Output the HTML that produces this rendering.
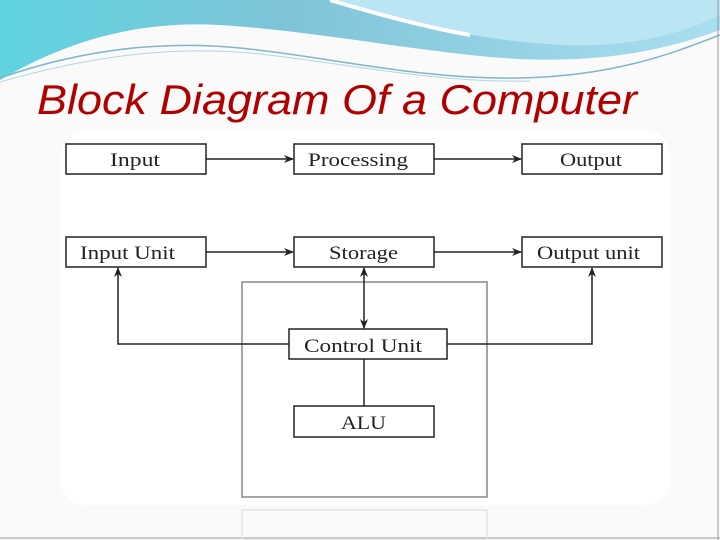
<!DOCTYPE html>
<html><head><meta charset="utf-8"><style>
html,body{margin:0;padding:0;background:#fafafa;}
svg{display:block;}
</style></head><body>
<svg width="720" height="540" viewBox="0 0 720 540" xmlns="http://www.w3.org/2000/svg">
<defs>
<linearGradient id="g1" x1="0" y1="0" x2="1" y2="0">
<stop offset="0" stop-color="#5fd3e0"/><stop offset="0.4" stop-color="#7fc4d8"/><stop offset="1" stop-color="#a9dff0"/>
</linearGradient>
<marker id="ah" markerWidth="10" markerHeight="8" refX="9" refY="4" orient="auto" markerUnits="userSpaceOnUse">
<path d="M0,0 L10,4 L0,8 L3,4 Z" fill="#222"/></marker>
</defs>
<rect width="720" height="540" fill="#fafafa"/>
<path d="M0,0 H720 V30 C640,60 560,65 470,55 C380,45 300,30 220,25 C130,20 60,45 0,80 Z" fill="url(#g1)"/>
<path d="M330,0 C400,20 470,40 560,45 C640,48 690,30 720,15 V0 Z" fill="#b9e6f2"/>
<path d="M330,0 C380,15 430,28 470,35" stroke="#fff" stroke-width="4" fill="none"/>
<path d="M0,78 C80,50 160,40 240,48 C330,57 420,80 520,78 C620,76 680,50 720,35" stroke="#7fb8c8" stroke-width="1.5" fill="none"/>
<path d="M0,82 C90,56 170,46 250,53 C340,62 430,83 530,81" stroke="#b0d8e0" stroke-width="1" fill="none"/>
<line x1="718" y1="0" x2="718" y2="540" stroke="#999"/>
<line x1="0" y1="538" x2="720" y2="538" stroke="#999"/>
<rect x="60" y="130" width="610" height="375" rx="25" fill="#fff"/>
<text x="37" y="114" font-family="Liberation Sans, sans-serif" font-style="italic" font-size="42" fill="#b00000" textLength="600" lengthAdjust="spacingAndGlyphs">Block Diagram Of a Computer</text>
<g fill="#fff" stroke="#222" stroke-width="1.5">
<rect x="66" y="144" width="140" height="30"/>
<rect x="294" y="144" width="140" height="30"/>
<rect x="522" y="144" width="140" height="30"/>
<rect x="66" y="237" width="140" height="30"/>
<rect x="294" y="237" width="140" height="30"/>
<rect x="522" y="237" width="140" height="30"/>
</g>
<rect x="242" y="282" width="245" height="215" fill="none" stroke="#888" stroke-width="1.5"/>
<rect x="242" y="510" width="245" height="30" fill="none" stroke="#e4e4e4" stroke-width="1.5"/>
<g fill="#fff" stroke="#222" stroke-width="1.5">
<rect x="289" y="329" width="158" height="30"/>
<rect x="294" y="406" width="140" height="31"/>
</g>
<g stroke="#222" stroke-width="1.5" fill="none">
<line x1="206" y1="159" x2="293" y2="159" marker-end="url(#ah)"/>
<line x1="434" y1="159" x2="521" y2="159" marker-end="url(#ah)"/>
<line x1="206" y1="252" x2="293" y2="252" marker-end="url(#ah)"/>
<line x1="434" y1="252" x2="521" y2="252" marker-end="url(#ah)"/>
<line x1="364" y1="300" x2="364" y2="268" marker-end="url(#ah)"/>
<line x1="364" y1="300" x2="364" y2="328" marker-end="url(#ah)"/>
<line x1="364" y1="359" x2="364" y2="406"/>
<polyline points="289,344 118,344 118,268" marker-end="url(#ah)"/>
<polyline points="447,344 592,344 592,268" marker-end="url(#ah)"/>
</g>
<g font-family="Liberation Serif, serif" font-size="19" fill="#222">
<text x="110" y="166" textLength="50" lengthAdjust="spacingAndGlyphs">Input</text>
<text x="308" y="166" textLength="100" lengthAdjust="spacingAndGlyphs">Processing</text>
<text x="560" y="166" textLength="62" lengthAdjust="spacingAndGlyphs">Output</text>
<text x="80" y="259" textLength="95" lengthAdjust="spacingAndGlyphs">Input Unit</text>
<text x="329" y="259" textLength="69" lengthAdjust="spacingAndGlyphs">Storage</text>
<text x="537" y="259" textLength="103" lengthAdjust="spacingAndGlyphs">Output unit</text>
<text x="304" y="352" textLength="118" lengthAdjust="spacingAndGlyphs">Control Unit</text>
<text x="341" y="429" textLength="45" lengthAdjust="spacingAndGlyphs">ALU</text>
</g>
</svg>
</body></html>
